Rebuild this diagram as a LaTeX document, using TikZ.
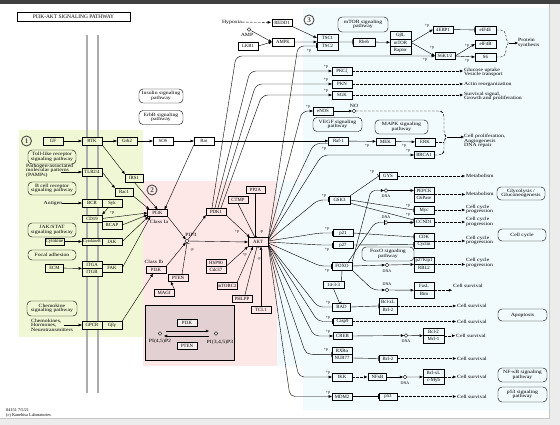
\documentclass[tikz,border=0pt]{standalone}
\usepackage{fontspec}
\setmainfont{Liberation Serif}
\newfontfamily\kgwide{Liberation Serif}[FakeStretch=1.2]
\usetikzlibrary{arrows.meta,calc}
\definecolor{gbg}{RGB}{240,247,212}
\definecolor{pbg}{RGB}{253,231,231}
\definecolor{cbg}{RGB}{241,250,252}
\definecolor{ibg}{RGB}{226,208,210}
\definecolor{frm}{RGB}{236,236,236}
\newcommand\kgf{\fontsize{4.8}{5}\selectfont}
\newcommand\kgt{\kgwide\fontsize{4.8}{4.6}\selectfont}
\newcommand\kgs{\fontsize{4}{4}\selectfont}
\newcommand\plab[3]{\node[ptxt] (#1) at (#2) {#3};}
\tikzset{
 gbox/.style={draw=black, line width=0.4pt, minimum width=20pt, minimum height=7.5pt, inner sep=0pt, font=\kgf, fill=cbg},
 grbox/.style={gbox, fill=gbg},
 pkbox/.style={gbox, fill=pbg},
 wbox/.style={gbox, fill=white},
 pway/.style={draw, line width=0.4pt, rounded corners=4pt, align=center, inner sep=0pt, font=\kgt, minimum width=48pt, minimum height=13pt},
 cpd/.style={circle, draw, line width=0.4pt, inner sep=0pt, minimum size=3.6pt, fill=white},
 ltxt/.style={font=\kgt, inner sep=0pt, align=left},
 ptxt/.style={font=\kgs, inner sep=0pt},
 ln/.style={line width=0.4pt},
 act/.style={ln, -{Triangle[length=3.2pt,width=2.6pt]}},
 inh/.style={ln, -{Bar[width=5pt]}},
 dline/.style={ln, dash pattern=on 2.5pt off 1.5pt},
 darr/.style={act, dash pattern=on 2.5pt off 1.5pt, shorten >=1pt},
 memb/.style={line width=1.6pt, draw=gray!65},
 num/.style={circle, draw=gray!60!black, line width=0.9pt, minimum size=10pt, inner sep=0pt, font=\fontsize{7}{7}\selectfont\bfseries, text=gray!60!black},
}
\begin{document}
\begin{tikzpicture}[x=1pt,y=-1pt]
\useasboundingbox (0,0) rectangle (560,425);
% frame and regions
\fill[frm] (0,0) rectangle (560,425);
\fill[black!75] (0,0) rectangle (560,4);
\fill[white] (0,4) rectangle (549,418);
\draw[gray!45, line width=0.6pt] (549,4) -- (549,418) -- (0,418);
\fill[cbg] (303,8) -- (549,8) -- (549,410) -- (303,410) -- (303,366) -- (277,366) -- (277,181) -- (303,181) -- cycle;
\fill[gbg] (19,130) rectangle (143,337);
\fill[pbg] (143,181) rectangle (277,366);
% membrane
\draw[memb] (87,35) -- (87,393);
\draw[memb] (98,35) -- (98,393);

% title and numbers
\node[draw, line width=0.5pt, minimum width=113pt, minimum height=9pt, inner sep=0pt, font=\fontsize{5.4}{5.4}\selectfont, fill=white] (title) at (73.5,16.5) {PI3K-AKT SIGNALING PATHWAY};
\node[num, fill=gbg] (n1) at (26.5,141) {1};
\node[num, fill=pbg] (n2) at (152,190) {2};
\node[num, fill=white] (n3) at (309,20) {3};

% ---------- green region ----------
\node[grbox] (GF) at (53,141) {GF};
\node[grbox] (RTK) at (92,141) {RTK};
\node[grbox] (Grb2) at (127,141) {Grb2};
\node[wbox] (SOS) at (163,141) {SOS};
\node[wbox] (Ras) at (204,141) {Ras};
\node[pway, minimum width=44pt, minimum height=14pt] (ins) at (161,96) {Insulin signaling\\pathway};
\node[pway, minimum width=44pt, minimum height=14pt] (erbb) at (161,117.5) {ErbB signaling\\pathway};
\node[pway, minimum height=14pt] (tlr) at (52,157) {Toll-like receptor\\signaling pathway};
\node[ltxt, anchor=north west] (pamp) at (26,163.5) {Pathogen-associated\\molecular patterns\\(PAMPs)};
\coordinate (pampA) at (61,172);
\node[grbox] (TLR) at (92,172) {TLR2/4};
\node[grbox, minimum width=18pt] (IRS1) at (134,178) {IRS1};
\node[grbox, minimum width=18pt] (Rac1) at (124,192) {Rac1};
\node[pway] (bcrp) at (52,188.5) {B cell receptor\\signaling pathway};
\node[ltxt] (antigen) at (53,203) {Antigen};
\node[grbox] (BCR) at (92,203) {BCR};
\node[grbox] (Syk) at (112,203) {Syk};
\node[grbox] (CD19) at (92,218.5) {CD19};
\node[grbox] (BCAP) at (112,225) {BCAP};
\node[pway, minimum height=14pt] (jakp) at (52,230) {JAK/STAT\\signaling pathway};
\node[grbox, minimum width=19pt] (Cytok) at (54.5,241.5) {Cytokine};
\node[grbox, font=\fontsize{4.1}{4.1}\selectfont] (CytR) at (92,241.5) {CytokineR};
\node[grbox] (JAK) at (112,241.5) {JAK};
\node[pway, minimum height=10pt] (focal) at (52,255) {Focal adhesion};
\node[grbox, minimum width=18pt] (ECM) at (54.5,268) {ECM};
\node[grbox] (ITGA) at (92,264.5) {ITGA};
\node[grbox] (ITGB) at (92,272) {ITGB};
\node[grbox] (FAK) at (112,268) {FAK};
\node[pway, minimum width=50pt, minimum height=15pt] (chemp) at (52,308.5) {Chemokine\\signaling pathway};
\node[ltxt, anchor=north west] (chemt) at (31,318.5) {Chemokines,\\Hormones,\\Neurotransmitters};
\coordinate (chemA) at (64,325);
\node[grbox] (GPCR) at (92,325) {GPCR};
\node[grbox] (Gbg) at (112,325) {Gβγ};

% ---------- pink region ----------
\node[pkbox, minimum height=7pt] (PI3Ka) at (157.5,213) {PI3K};
\node[ltxt] (clIa) at (159,221.5) {Class Ia};
\node[cpd] (PIP3) at (187,241) {};
\node[ltxt] (pip3l) at (191,235) {PIP3};
\node[pkbox, minimum height=7pt] (PI3Kb) at (156,270) {PI3K};
\node[ltxt] (clIb) at (154,261.5) {Class Ib};
\node[pkbox, minimum height=7pt] (PTEN) at (178,278) {PTEN};
\node[pkbox, minimum height=7pt] (MAGI) at (164,292.5) {MAGI};
\node[pkbox, minimum height=7pt] (PDK1) at (216,211.5) {PDK1};
\node[pkbox, minimum height=7pt] (CTMP) at (238,200) {CTMP};
\node[pkbox, minimum width=19pt, minimum height=7pt] (PP2A) at (255.5,189.5) {PP2A};
\node[pkbox, minimum height=9pt] (AKT) at (258,242) {AKT};
\node[pkbox, minimum height=7pt] (HSP90) at (216,262.5) {HSP90};
\node[pkbox, minimum height=7pt] (Cdc37) at (216,269.5) {Cdc37};
\node[pkbox, minimum height=6.5pt] (mTORC2) at (227,285.5) {mTORC2};
\node[pkbox, minimum height=7pt] (PHLPP) at (242,298.5) {PHLPP};
\node[pkbox, minimum height=7pt] (TCL1) at (261,310) {TCL1};
% inset
\node[draw, line width=0.6pt, fill=ibg, minimum width=89pt, minimum height=55pt, inner sep=0pt] (inset) at (189.5,332.5) {};
\node[gbox, fill=ibg!35!white, minimum height=7pt] (iPI3K) at (187,322.5) {PI3K};
\node[gbox, fill=ibg!35!white, minimum height=6.5pt] (iPTEN) at (187,345.5) {PTEN};
\node[cpd] (c1) at (160,333.5) {};
\node[ltxt] (c1l) at (160,341.5) {PI(4,5)P2};
\node[cpd] (c2) at (216,333.5) {};
\node[ltxt] (c2l) at (220,342) {PI(3,4,5)P3};
\draw[act] ($(c1)+(6,-2.5)$) -- ($(c2)+(-7,-2.5)$);
\draw[act] ($(c2)+(-7,2.5)$) -- ($(c1)+(4,2.5)$);

% ---------- top / cyan region ----------
\node[ltxt] (hyp) at (232,22) {Hypoxia};
\node[wbox] (REDD1) at (282,22.5) {REDD1};
\node[cpd] (AMP) at (249,29.5) {};
\node[ltxt] (ampl) at (247,35) {AMP};
\node[wbox] (LKB1) at (248,46) {LKB1};
\node[wbox, minimum width=22pt] (AMPK) at (283,42) {AMPK};
\node[gbox, minimum width=21pt] (TSC1) at (327.5,38) {TSC1};
\node[gbox, minimum width=21pt] (TSC2) at (327.5,46) {TSC2};
\node[gbox, minimum width=22pt] (Rheb) at (364,42) {Rheb};
\node[pway, minimum width=50pt, minimum height=15pt] (mtorp) at (363,24.5) {mTOR signaling\\pathway};
\node[gbox, minimum width=21pt] (GbL) at (400.5,35) {GβL};
\node[gbox, minimum width=21pt] (mTOR) at (400.5,42.5) {mTOR};
\node[gbox, minimum width=21pt] (Raptor) at (400.5,50) {Raptor};
\node[gbox, minimum height=7pt] (EBP) at (443,29.5) {4EBP1};
\node[gbox, minimum width=21pt, minimum height=8pt] (eIF4E) at (485.5,30) {eIF4E};
\node[gbox, minimum width=21pt, minimum height=8pt] (eIF4B) at (485.5,44) {eIF4B};
\node[gbox, minimum width=21pt, minimum height=8pt] (S6) at (485.5,57) {S6};
\node[gbox, minimum height=7pt] (S6K) at (445,56) {S6K1/2};
\node[ltxt, anchor=west] (prot) at (518,43) {Protein\\synthesis};

\node[gbox] (PKCz) at (342,71) {PKCζ};
\node[gbox] (PKN) at (342,84) {PKN};
\node[gbox] (SGK) at (342,95) {SGK};
\node[gbox, minimum height=8pt] (eNOS) at (323,111) {eNOS};
\node[cpd] (NO) at (354,111) {};
\node[ltxt] (nol) at (354,105.5) {NO};
\node[pway, minimum width=49pt, minimum height=14pt] (vegf) at (337.5,124.5) {VEGF signaling\\pathway};
\node[gbox] (Raf1) at (338.5,141) {Raf-1};
\node[gbox, minimum width=19pt] (MEK) at (385.5,141.5) {MEK};
\node[pway, minimum width=53pt, minimum height=14pt] (mapk) at (401.5,127) {MAPK signaling\\pathway};
\node[gbox, minimum height=8pt] (ERK) at (425,142) {ERK};
\node[gbox, minimum height=7pt] (BRCA1) at (424,155) {BRCA1};

\node[gbox, minimum width=18pt, minimum height=7pt] (GYS) at (388,176) {GYS};
\node[gbox, minimum width=21pt, minimum height=8pt] (GSK3) at (339.5,200) {GSK3};
\node[gbox] (PEPCK) at (424,190.5) {PEPCK};
\node[gbox] (G6P) at (424,198) {G6Pase};
\node[gbox] (Myc) at (424,210) {Myc};
\node[gbox] (CCND1) at (424,222) {CCND1};
\node[gbox] (CDK) at (424,237) {CDK};
\node[gbox] (Cyclin) at (424,244.5) {Cyclin};
\node[gbox, minimum height=7pt] (p21) at (343,233) {p21};
\node[gbox, minimum height=7pt] (p27) at (343,245) {p27};
\node[gbox, minimum height=8pt] (FOXO) at (342,266) {FOXO};
\node[pway, minimum width=52pt, minimum height=14pt] (foxop) at (388,254) {FoxO signaling\\pathway};
\node[gbox] (p27K) at (424,260.5) {p27Kip1};
\node[gbox] (RBL2) at (424,268) {RBL2};
\node[cpd] (DNA1) at (386,190.5) {};
\node[ptxt] (d1l) at (386,196.5) {DNA};
\node[cpd] (DNA2) at (386,222.5) {};
\node[ptxt] (d2l) at (386,217) {DNA};
\node[cpd] (DNA3) at (387,265) {};
\node[ptxt] (d3l) at (387,271) {DNA};
\node[cpd] (DNA4) at (387,290) {};
\node[ptxt] (d4l) at (387,284.5) {DNA};
\node[gbox, minimum height=8pt] (FasL) at (424,286) {FasL};
\node[gbox, minimum height=8pt] (Bim) at (424,294) {Bim};
\node[gbox, minimum width=21pt, minimum height=7pt] (ft) at (333.5,285) {14-3-3};
\node[gbox, minimum width=18pt] (BAD) at (341.5,307) {BAD};
\node[gbox, minimum width=18pt] (BclxL) at (388,302) {Bcl-xL};
\node[gbox, minimum width=18pt] (Bcl2) at (388,310) {Bcl-2};
\node[gbox, minimum width=19pt, minimum height=7pt] (Casp9) at (342.5,321.5) {Casp9};
\node[gbox, minimum width=19pt, minimum height=7pt] (CREB) at (342.5,336) {CREB};
\node[cpd] (DNA5) at (406,335.5) {};
\node[ptxt] (d5l) at (406,341.5) {DNA};
\node[gbox, minimum width=21pt] (Bcl2b) at (433.5,331.75) {Bcl-2};
\node[gbox, minimum width=21pt] (Mcl1) at (433.5,339.25) {Mcl-1};
\node[gbox] (RXRa) at (342,350.5) {RXRα};
\node[gbox] (NUR77) at (342,358) {NUR77};
\node[gbox, minimum width=18pt] (Bcl2c) at (388,358.5) {Bcl-2};
\node[gbox, minimum height=8pt] (IKK) at (342,377) {IKK};
\node[gbox, minimum width=18pt, minimum height=7pt] (NFkB) at (377.5,377) {NFκB};
\node[cpd] (DNA6) at (405,377) {};
\node[ptxt] (d6l) at (405,383) {DNA};
\node[gbox, minimum width=21pt] (BclxLb) at (433.5,373) {Bcl-xL};
\node[gbox, minimum width=21pt] (cMyb) at (433.5,380.5) {c-Myb};
\node[gbox, minimum height=7pt] (MDM2) at (342,396.5) {MDM2};
\node[gbox, minimum width=18pt] (p53) at (388,396.5) {p53};

% right pathway boxes
\node[pway] (glyc) at (521,193.5) {Glycolysis /\\Gluconeogenesis};
\node[pway, minimum height=12pt] (ccy) at (522,235) {Cell cycle};
\node[pway, minimum width=49pt, minimum height=12pt] (apop) at (522.5,315) {Apoptosis};
\node[pway, minimum width=49pt, minimum height=14pt] (nfkbp) at (522.5,375) {NF-κB signaling\\pathway};
\node[pway, minimum width=49pt, minimum height=15pt] (p53p) at (522.5,394.5) {p53 signaling\\pathway};

% output texts
\node[ltxt, anchor=west] (o1) at (464,72.5) {Glucose uptake\\Vesicle transport};
\node[ltxt, anchor=west] (o2) at (464,84) {Actin reorganization};
\node[ltxt, anchor=west] (o3) at (464,96.5) {Survival signal,\\Growth and proliferation};
\node[ltxt, anchor=west] (o4) at (464,141) {Cell proliferation,\\Angiogenesis\\DNA repair};
\node[ltxt, anchor=west] (o5) at (466,176) {Metabolism};
\node[ltxt, anchor=west] (o6) at (466,194) {Metabolism};
\node[ltxt, anchor=west] (o7) at (466,209.5) {Cell cycle\\progression};
\node[ltxt, anchor=west] (o8) at (466,222) {Cell cycle\\progression};
\node[ltxt, anchor=west] (o9) at (466,240.5) {Cell cycle\\progression};
\node[ltxt, anchor=west] (o10) at (466,263) {Cell cycle\\progression};
\node[ltxt, anchor=west] (s1) at (453,285.5) {Cell survival};
\node[ltxt, anchor=west] (s2) at (457,306) {Cell survival};
\node[ltxt, anchor=west] (s3) at (457,321.5) {Cell survival};
\node[ltxt, anchor=west] (s4) at (456,335.5) {Cell survival};
\node[ltxt, anchor=west] (s5) at (457,358.5) {Cell survival};
\node[ltxt, anchor=west] (s6) at (457,376.75) {Cell survival};
\node[ltxt, anchor=west] (s7) at (457,396.5) {Cell survival};

% footer
\node[anchor=north west, inner sep=0pt, align=left, font=\fontsize{4.3}{5}\selectfont] (foot) at (6,408.5) {04151 7/5/21\\(c) Kanehisa Laboratories};

% ---------- edges: receptor side ----------
\draw[act] (GF) -- (RTK);
\draw[act] (RTK) -- (Grb2);
\draw[act] (Grb2) -- (SOS);
\draw[act] (SOS) -- (Ras);
\draw[act] (Ras) -- (Raf1);
\draw[act] (Raf1) -- (MEK);
\plab{lp1}{367,145.5}{+p}
\draw[act] (MEK) -- (ERK);
\plab{lp2}{404,146}{+p}
\draw[act] (RTK.south east) -- (IRS1.north west);
\draw[act] (pampA) -- (TLR);
\draw[act] (TLR.east) -- (Rac1.north west);
\draw[act] (IRS1.south) -- (PI3Ka.north);
\draw[act] (Rac1.south east) -- ($(PI3Ka.north west)+(2,0)$);
\draw[act] (Ras.south west) -- ($(PI3Ka.north east)+(-3,0)$);
\draw[act] (antigen) -- (BCR);
\draw[act] ($(Syk.south)+(-3,0)$) -- (CD19.north east);
\plab{lp3}{112,212.5}{+p}
\draw[act] (CD19.east) -- (PI3Ka.west);
\draw[act] (BCAP.east) -- ($(PI3Ka.west)+(0,2)$);
\draw[act] (Cytok) -- (CytR);
\draw[act] (JAK.east) -- ($(PI3Ka.south west)+(1,0)$);
\draw[act] (ECM) -- (ITGA.south west);
\draw[act] (FAK.east) -- ($(PI3Ka.south west)+(3,0)$);
\draw[act] (chemA) -- (GPCR);
\draw[act] (Gbg.north east) -- ($(PI3Kb.south)+(-3,0)$);

% ---------- edges: PI3K / AKT core ----------
\draw[act] (PI3Ka.south east) -- (PIP3);
\draw[act] (PI3Kb.north east) -- (PIP3);
\draw[inh] ($(PTEN.north)+(4,0)$) -- (PIP3.south);
\plab{lm1}{192,250}{-p}
\draw[act] (MAGI.north east) -- ($(PTEN.south west)+(3,0)$);
\draw[act] (PIP3) -- (PDK1.south west);
\draw[act] (PIP3) -- (AKT.west);
\draw[act] (PDK1.south east) -- ($(AKT.north west)+(2,0)$);
\plab{lp4}{237,232}{+p}
\draw[inh] (CTMP.south) -- ($(AKT.north)+(-3,0)$);
\draw[inh] (PP2A.south) -- (PP2A.south |- AKT.north);
\plab{lm2}{261.5,232}{-p}
\draw[act] (HSP90.south east) -- (AKT.south west);
\draw[act] (mTORC2.north east) -- ($(AKT.south)+(-5,0)$);
\plab{lp5}{244.5,255}{+p}
\draw[inh] ($(PHLPP.north)+(3,0)$) -- ($(AKT.south)+(-1,0)$);
\plab{lm3}{259,259}{-p}
\draw[act] (TCL1.north) -- (TCL1.north |- AKT.south);

% ---------- edges: top (mTOR) ----------
\draw[darr] (hyp) -- (REDD1);
\draw[act] (REDD1.south east) -- (TSC1.west);
\draw[act] (AMP) -- (AMPK.west);
\draw[act] (LKB1.east) -- (AMPK.west);
\draw[act] (AMPK.east) -- (TSC1.south west);
\draw[inh] (TSC1.south east) -- (Rheb.west);
\draw[act] (Rheb) -- (mTOR);
\draw[act] (mTOR.east) -- (EBP.west);
\plab{lp6}{427,25.5}{+p}
\draw[act] (mTOR.east) -- (S6K.west);
\plab{lp7}{432,48}{+p}
\draw[inh] (EBP) -- (eIF4E);
\draw[act] (S6K.east) -- (eIF4B.west);
\plab{lp8}{467,45.5}{+p}
\draw[act] (S6K.east) -- (S6.west);
\plab{lp9}{467,61}{+p}
\draw[dline, rounded corners=2pt] (eIF4E.east) -- (503,30) -- (506,34) -- (506,40) -- (509,43) -- (506,46) -- (506,53) -- (503,57) -- (S6.east);
\coordinate (psA) at (509,43);
\draw[act] (psA) -- (prot.west);

% PDK1 fan
\draw[act, rounded corners=6pt] ($(PDK1.north)+(-4,0)$) -- (236,56) -- (S6K.west);
\plab{lp10}{425,60}{+p}
\draw[act, rounded corners=6pt] ($(PDK1.north)+(-1,0)$) -- (250,71) -- (PKCz.west);
\plab{lp11}{326,67}{+p}
\draw[act, rounded corners=6pt] ($(PDK1.north)+(2,0)$) -- (256,84) -- (PKN.west);
\plab{lp12}{326,80}{+p}
\draw[act, rounded corners=6pt] ($(PDK1.north)+(5,0)$) -- (262,95) -- (SGK.west);
\plab{lp13}{326,91}{+p}
\draw[darr] (PKCz.east) -- (PKCz.east -| o1.west);
\draw[darr] (PKN.east) -- (PKN.east -| o2.west);
\draw[darr] (SGK.east) -- (SGK.east -| o3.west);

% eNOS / MAPK / brace
\draw[act] (eNOS) -- (NO);
\draw[dline, rounded corners=3pt] (NO.east) -- (441,111) -- (444,114) -- (444,134) -- (447,137) -- (444,140) -- (444,152) -- (441,155) -- (BRCA1.east);
\draw[dline] (ERK.east) -- (444,142);
\coordinate (cpA) at (447,137);
\draw[act] (cpA) -- (cpA -| o4.west);

% AKT fan
\draw[inh, rounded corners=6pt] ($(AKT.east)+(0,-3)$) -- (298,46) -- (TSC2.west);
\plab{lp14}{309,51}{+p}
\draw[act, rounded corners=6pt] ($(AKT.east)+(0,-3)$) -- (302,111) -- (eNOS.west);
\plab{lp15}{308,106.5}{+p}
\draw[inh, rounded corners=6pt] ($(AKT.east)+(0,-2)$) -- (314,143.5) -- ($(Raf1.west)+(0,2.5)$);
\plab{lp16}{324,149}{+p}
\draw[act, rounded corners=6pt] ($(AKT.east)+(0,-2)$) -- (322,155) -- (BRCA1.west);
\plab{lp17}{408,151}{+p}
\draw[inh, rounded corners=5pt] ($(AKT.east)+(0,-1)$) -- (318,200) -- (GSK3.west);
\plab{lp18}{324,196}{+p}
\draw[inh, rounded corners=4pt] ($(AKT.east)+(0,-1)$) -- (320,233) -- (p21.west);
\plab{lp19}{327,229}{+p}
\draw[inh, rounded corners=4pt] (AKT.east) -- (320,245) -- (p27.west);
\plab{lp20}{327,249.5}{+p}
\draw[inh, rounded corners=4pt] ($(AKT.east)+(0,1)$) -- (320,266) -- (FOXO.west);
\plab{lp21}{327,270.5}{+p}
\draw[inh, rounded corners=5pt] ($(AKT.east)+(0,2)$) -- (318,307) -- (BAD.west);
\plab{lp22}{328,303}{+p}
\draw[inh, rounded corners=5pt] ($(AKT.east)+(0,2)$) -- (318,321.5) -- (Casp9.west);
\plab{lp23}{328,318}{+p}
\draw[act, rounded corners=5pt] ($(AKT.east)+(0,3)$) -- (314,336) -- (CREB.west);
\plab{lp24}{328,332}{+p}
\draw[inh, rounded corners=5pt] ($(AKT.east)+(0,3)$) -- (306,354.25) -- (RXRa.south west);
\plab{lp25}{326,350}{+p}
\draw[act, rounded corners=5pt] ($(AKT.east)+(0,3)$) -- (299,377) -- (IKK.west);
\plab{lp26}{328,373}{+p}
\draw[act, rounded corners=5pt] ($(AKT.east)+(0,3)$) -- (290,396.5) -- (MDM2.west);
\plab{lp27}{328,392.5}{+p}

% GSK3 / FOXO targets
\draw[inh] (GSK3.north east) -- (GYS.west);
\plab{lp28}{372,172}{+p}
\draw[inh] (GSK3.east) -- (Myc.west);
\plab{lp29}{408,205.5}{+p}
\draw[inh] ($(GSK3.south east)+(0,-1)$) -- ($(CCND1.west)+(0,-2)$);
\plab{lp30}{408,215}{+p}
\draw[darr] (GYS.east) -- (GYS.east -| o5.west);
\draw[act, rounded corners=4pt] (FOXO.north east) -- (371,190.5) -- (DNA1.west);
\draw[act] (DNA1) -- (PEPCK.west);
\draw[darr] (PEPCK.south east) -- (PEPCK.south east -| o6.west);
\draw[inh, rounded corners=4pt] ($(FOXO.north east)+(-4,0)$) -- (375,222.5) -- (DNA2.west);
\draw[act] (DNA2.east) -- ($(CCND1.west)+(0,0.5)$);
\draw[darr] (Myc.east) -- (Myc.east -| o7.west);
\draw[darr] (CCND1.east) -- (CCND1.east -| o8.west);
\draw[inh] (p21.east) -- (CDK.west);
\draw[inh] (p27.east) -- (Cyclin.west);
\draw[darr] (CDK.south east) -- (CDK.south east -| o9.west);
\draw[act] (FOXO.east) -- (DNA3.west);
\draw[act] (DNA3.east) -- (p27K.south west);
\draw[darr] (p27K.south east) -- (p27K.south east -| o10.west);
\draw[act, rounded corners=5pt] (FOXO.south east) -- (373,290) -- (DNA4.west);
\draw[act] (DNA4.east) -- (FasL.south west);
\draw[darr] (FasL.south east) -- (FasL.south east -| s1.west);
\draw[inh] ($(ft.north)+(8,0)$) -- (FOXO.south);
\draw[inh] (ft.south) -- ($(BAD.north)+(-2,0)$);
\draw[inh] (BAD.east) -- (BclxL.south west);
\draw[darr] (BclxL.south east) -- (BclxL.south east -| s2.west);
\draw[darr] (Casp9.east) -- (Casp9.east -| s3.west);
\draw[act] (CREB.east) -- (DNA5.west);
\draw[act] (DNA5.east) -- (Bcl2b.south west);
\draw[darr] (Bcl2b.south east) -- (Bcl2b.south east -| s4.west);
\draw[inh] (NUR77.east) -- (Bcl2c.west);
\draw[darr] (Bcl2c.east) -- (Bcl2c.east -| s5.west);
\draw[darr] (IKK) -- (NFkB);
\draw[act] (NFkB) -- (DNA6);
\draw[act] (DNA6) -- (BclxLb.south west);
\draw[darr] (BclxLb.south east) -- (BclxLb.south east -| s6.west);
\draw[inh] (MDM2) -- (p53);
\draw[darr] (p53.east) -- (p53.east -| s7.west);
\end{tikzpicture}
\end{document}
